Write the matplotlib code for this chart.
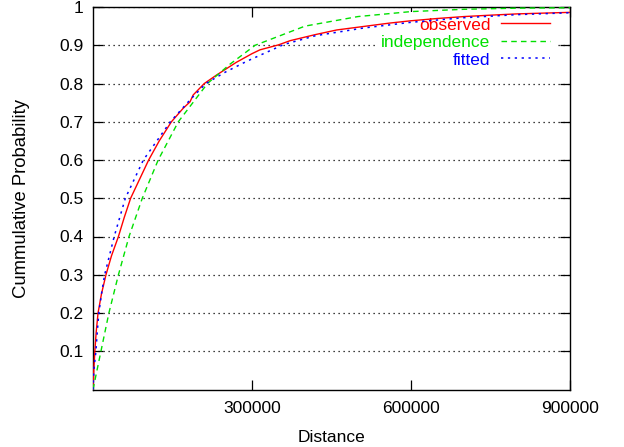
import matplotlib
matplotlib.use("Agg")
import matplotlib.pyplot as plt

# Data
obs_x = [0, 1500, 3500, 6000, 9500, 16000, 24500, 35000, 48000, 59000, 71000,
         88000, 105000, 125000, 148000, 170000, 183000, 189000, 210000, 233000,
         270000, 300000, 315000, 350000, 372000, 420000, 460000, 510000,
         560000, 600000, 650000, 700000, 755000, 800000, 900000]
obs_y = [0, 0.05, 0.10, 0.15, 0.20, 0.25, 0.30, 0.35, 0.40, 0.45, 0.50,
         0.55, 0.60, 0.65, 0.70, 0.735, 0.752, 0.770, 0.80, 0.822,
         0.855, 0.878, 0.888, 0.901, 0.912, 0.928, 0.940, 0.949,
         0.958, 0.964, 0.970, 0.975, 0.979, 0.982, 0.986]

ind_x = [0, 15000, 30000, 48000, 68000, 93000, 123000, 161000, 216000,
         258000, 306000, 400000, 500000, 600000, 700000, 800000, 900000]
ind_y = [0, 0.10, 0.20, 0.30, 0.40, 0.50, 0.60, 0.70, 0.80,
         0.85, 0.90, 0.95, 0.975, 0.988, 0.994, 0.997, 0.998]

fit_x = [0, 1500, 5500, 8000, 11000, 16000, 22000, 40000, 61000, 95000,
         146000, 185000, 213000, 250000, 290000, 360000, 420000, 510000,
         600000, 700000, 800000, 900000]
fit_y = [0, 0.05, 0.10, 0.15, 0.20, 0.25, 0.30, 0.40, 0.50, 0.60,
         0.70, 0.76, 0.80, 0.83, 0.858, 0.902, 0.925, 0.945,
         0.960, 0.972, 0.980, 0.985]

x_ticks = [300000, 600000, 900000]
x_tick_labels = ["300000", "600000", "900000"]
y_ticks = [0.1, 0.2, 0.3, 0.4, 0.5, 0.6, 0.7, 0.8, 0.9, 1.0]
y_tick_labels = ["0.1", "0.2", "0.3", "0.4", "0.5", "0.6", "0.7", "0.8", "0.9", "1"]

plt.rcParams['font.family'] = ['Liberation Sans', 'DejaVu Sans']
FS = 12.5

fig = plt.figure(figsize=(6.24, 4.47), dpi=100)
W, H = 624, 447
ax = fig.add_axes([93 / W, (H - 389.5) / H, (570 - 93) / W, (389.5 - 7) / H])

ax.plot(obs_x, obs_y, color='#ff0000', lw=1.0, label='observed', zorder=3)
ax.plot(ind_x, ind_y, color='#00e000', lw=1.0, linestyle=(0, (4, 3)),
        label='independence', zorder=3)
ax.plot(fit_x, fit_y, color='#0000ff', lw=1.1, linestyle=(0, (1.5, 3)),
        label='fitted', zorder=3)

ax.set_xlim(0, 900000)
ax.set_ylim(0, 1)
ax.set_xticks(x_ticks)
ax.set_xticklabels(x_tick_labels)
ax.set_yticks(y_ticks)
ax.set_yticklabels(y_tick_labels)
ax.tick_params(direction='in', length=7, width=0.9, top=True, right=True,
               labelsize=FS, pad=7)
ax.tick_params(axis='x', pad=8)
ax.yaxis.grid(True, color='black', linestyle=(0, (1, 3)), lw=0.9)
ax.set_axisbelow('line')
for s in ax.spines.values():
    s.set_linewidth(1.0)

ax.set_xlabel('Distance', fontsize=FS, labelpad=10)
ax.set_ylabel('Cummulative Probability', fontsize=FS + 0.8, labelpad=21)

leg = ax.legend(loc='upper right', bbox_to_anchor=(0.979, 1.0), markerfirst=False,
                labelcolor='linecolor', fontsize=FS, frameon=True,
                facecolor='white', edgecolor='none', framealpha=1.0,
                fancybox=False, handlelength=2.8, handletextpad=0.6,
                labelspacing=0.135, borderaxespad=0.3, borderpad=0.3)
leg.set_zorder(2)

fig.savefig('out.png', dpi=100)
